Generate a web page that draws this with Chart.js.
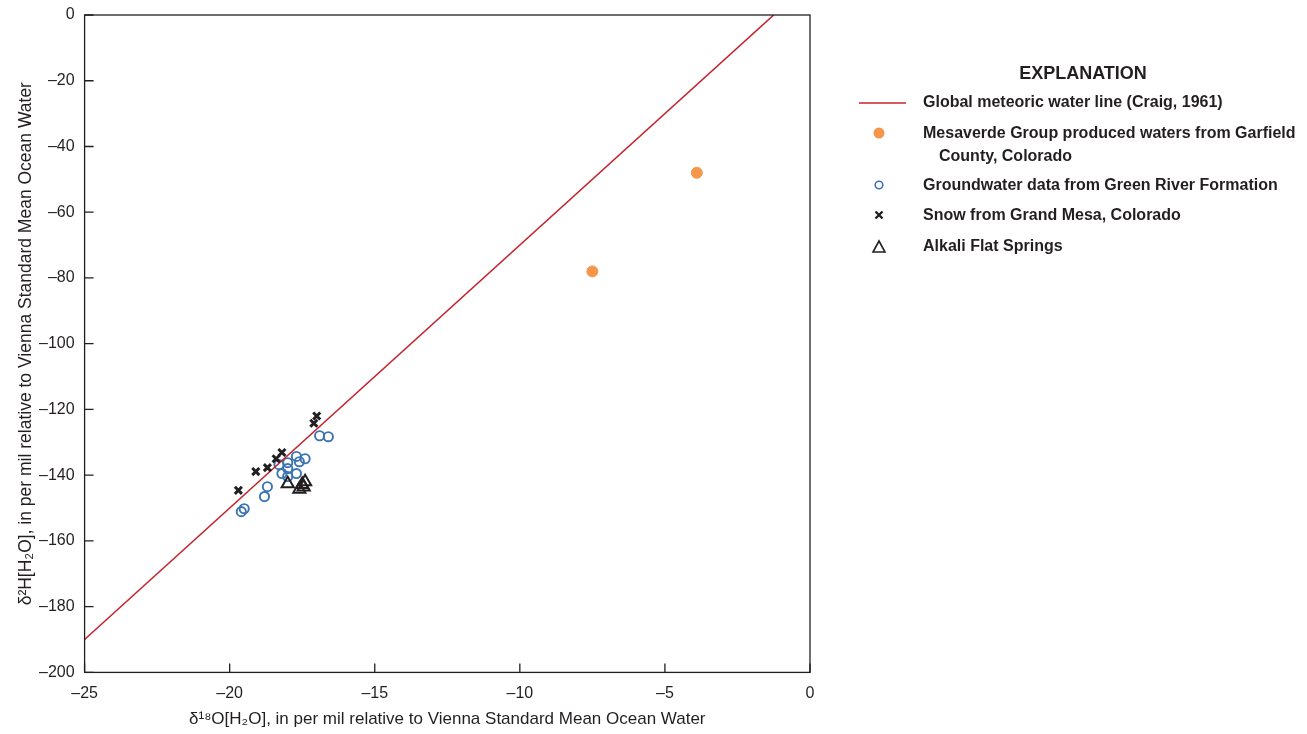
<!DOCTYPE html>
<html lang="en">
<head>
    <meta charset="UTF-8">
    <title>Stable isotopes of water</title>
    <script src="https://cdn.jsdelivr.net/npm/chart.js"></script>
    <style>
        body {
            margin: 0;
            background: #fff;
        }
        .chart-box {
            position: relative;
            width: 1307px;
            height: 734px;
        }
    </style>
</head>
<body>
    <div class="chart-box">
        <canvas id="isoChart"></canvas>
    </div>

    <script>
        // Global meteoric water line (Craig, 1961): dD = 8 * d18O + 10
        const gmwlX = [-25, -1.25];
        const gmwlY = [-190, 0];

        // Mesaverde Group produced waters, Garfield County
        const mesaverdeX = [-3.9, -7.5];
        const mesaverdeY = [-48.0, -78.0];

        // Groundwater, Green River Formation
        const groundX = [-16.9, -16.6, -17.7, -17.4, -17.6, -18.0, -18.3, -18.0, -17.7, -18.2, -18.0, -18.7, -18.8, -19.5, -19.6];
        const groundY = [-128.0, -128.3, -134.3, -135.0, -135.9, -136.2, -136.8, -138.0, -139.5, -139.5, -140.4, -143.5, -146.5, -150.2, -151.1];

        // Snow, Grand Mesa
        const snowX = [-17.0, -17.1, -18.2, -18.4, -18.7, -19.1, -19.7];
        const snowY = [-122.0, -124.2, -133.1, -135.0, -137.7, -138.9, -144.6];

        // Alkali Flat Springs
        const alkaliX = [-18.0, -17.4, -17.5, -17.6, -17.45];
        const alkaliY = [-142.6, -142.0, -142.8, -144.3, -143.6];

        const xTicks = [-25, -20, -15, -10, -5, 0];
        const yTicks = [0, -20, -40, -60, -80, -100, -120, -140, -160, -180, -200];

        const legendItems = [
            { kind: 'line', lines: ['Global meteoric water line (Craig, 1961)'] },
            { kind: 'dot', lines: ['Mesaverde Group produced waters from Garfield', 'County, Colorado'] },
            { kind: 'ring', lines: ['Groundwater data from Green River Formation'] },
            { kind: 'cross', lines: ['Snow from Grand Mesa, Colorado'] },
            { kind: 'tri', lines: ['Alkali Flat Springs'] }
        ];

        const FONT = "'Liberation Sans Narrow', 'Liberation Sans', Arial, sans-serif";
        const RED = '#c4242e';
        const ORANGE = '#f6964a';
        const BLUE = '#3b73b4';
        const INK = '#231f20';

        const pts = (xs, ys) => xs.map((x, i) => ({ x: x, y: ys[i] }));
        const dash = v => (v < 0 ? '\u2013' + Math.abs(v) : String(v));

        // frame, inward ticks and the explanation block
        const decor = {
            id: 'decor',
            afterDraw(chart) {
                const ctx = chart.ctx;
                const a = chart.chartArea;
                const sx = chart.scales.x;
                const sy = chart.scales.y;
                ctx.save();
                ctx.strokeStyle = INK;
                ctx.lineWidth = 1.3;
                ctx.strokeRect(a.left, a.top, a.right - a.left, a.bottom - a.top);
                ctx.beginPath();
                xTicks.forEach(v => {
                    const px = sx.getPixelForValue(v);
                    ctx.moveTo(px, a.bottom);
                    ctx.lineTo(px, a.bottom - 9);
                });
                yTicks.forEach(v => {
                    const py = sy.getPixelForValue(v);
                    ctx.moveTo(a.left, py);
                    ctx.lineTo(a.left + 9, py);
                });
                ctx.stroke();

                // explanation
                ctx.fillStyle = INK;
                ctx.textBaseline = 'middle';
                ctx.font = "bold 18px " + FONT;
                ctx.textAlign = 'center';
                ctx.fillText('EXPLANATION', 1083, 74);

                ctx.textAlign = 'left';
                ctx.font = "bold 16px " + FONT;
                const rows = [103, 134, 186, 216, 247];
                const mx = 879;
                legendItems.forEach((item, i) => {
                    const y = rows[i];
                    item.lines.forEach((t, j) => {
                        ctx.fillStyle = INK;
                        ctx.fillText(t, j === 0 ? 923 : 939, y + j * 23);
                    });
                    ctx.beginPath();
                    if (item.kind === 'line') {
                        ctx.strokeStyle = RED;
                        ctx.lineWidth = 1.6;
                        ctx.moveTo(859, y);
                        ctx.lineTo(906, y);
                        ctx.stroke();
                    } else if (item.kind === 'dot') {
                        ctx.fillStyle = ORANGE;
                        ctx.arc(mx, y - 1, 5.5, 0, Math.PI * 2);
                        ctx.fill();
                    } else if (item.kind === 'ring') {
                        ctx.strokeStyle = BLUE;
                        ctx.lineWidth = 1.6;
                        ctx.arc(mx, y - 1, 3.8, 0, Math.PI * 2);
                        ctx.stroke();
                    } else if (item.kind === 'cross') {
                        ctx.strokeStyle = INK;
                        ctx.lineWidth = 2.4;
                        ctx.moveTo(mx - 3.5, y - 4.5);
                        ctx.lineTo(mx + 3.5, y + 2.5);
                        ctx.moveTo(mx + 3.5, y - 4.5);
                        ctx.lineTo(mx - 3.5, y + 2.5);
                        ctx.stroke();
                    } else if (item.kind === 'tri') {
                        ctx.strokeStyle = INK;
                        ctx.lineWidth = 1.6;
                        ctx.moveTo(mx, y - 6);
                        ctx.lineTo(mx + 6, y + 5);
                        ctx.lineTo(mx - 6, y + 5);
                        ctx.closePath();
                        ctx.stroke();
                    }
                });
                ctx.restore();
            }
        };

        const ctx = document.getElementById('isoChart').getContext('2d');
        const isoChart = new Chart(ctx, {
            type: 'scatter',
            data: {
                datasets: [
                    {
                        label: 'Global meteoric water line (Craig, 1961)',
                        type: 'line',
                        data: pts(gmwlX, gmwlY),
                        borderColor: RED,
                        borderWidth: 1.6,
                        pointRadius: 0,
                        fill: false,
                        order: 1
                    },
                    {
                        label: 'Mesaverde Group produced waters from Garfield County, Colorado',
                        data: pts(mesaverdeX, mesaverdeY),
                        backgroundColor: ORANGE,
                        borderColor: ORANGE,
                        pointRadius: 5.5,
                        order: 2
                    },
                    {
                        label: 'Groundwater data from Green River Formation',
                        data: pts(groundX, groundY),
                        backgroundColor: 'rgba(0,0,0,0)',
                        borderColor: BLUE,
                        borderWidth: 1.9,
                        pointRadius: 4.6,
                        order: 3
                    },
                    {
                        label: 'Snow from Grand Mesa, Colorado',
                        data: pts(snowX, snowY),
                        pointStyle: 'crossRot',
                        borderColor: INK,
                        borderWidth: 3,
                        pointRadius: 5,
                        order: 0
                    },
                    {
                        label: 'Alkali Flat Springs',
                        data: pts(alkaliX, alkaliY),
                        pointStyle: 'triangle',
                        backgroundColor: 'rgba(0,0,0,0)',
                        borderColor: INK,
                        borderWidth: 2,
                        pointRadius: 7,
                        order: 0
                    }
                ]
            },
            options: {
                responsive: true,
                maintainAspectRatio: false,
                animation: false,
                layout: {
                    padding: { top: 15, right: 497, bottom: 4, left: 16 }
                },
                plugins: {
                    legend: { display: false },
                    tooltip: { enabled: false }
                },
                scales: {
                    x: {
                        type: 'linear',
                        min: -25,
                        max: 0,
                        afterBuildTicks: s => { s.ticks = xTicks.map(v => ({ value: v })); },
                        grid: { display: false },
                        border: { display: false },
                        ticks: {
                            color: INK,
                            padding: 4,
                            maxRotation: 0,
                            font: { family: FONT, size: 16 },
                            callback: v => dash(v)
                        },
                        title: {
                            display: true,
                            text: '\u03b4\u00b9\u2078O[H\u2082O], in per mil relative to Vienna Standard Mean Ocean Water',
                            color: INK,
                            font: { family: FONT, size: 17 },
                            padding: { top: 2, bottom: 0 }
                        }
                    },
                    y: {
                        type: 'linear',
                        min: -200,
                        max: 0,
                        afterBuildTicks: s => { s.ticks = yTicks.map(v => ({ value: v })); },
                        grid: { display: false },
                        border: { display: false },
                        ticks: {
                            color: INK,
                            padding: 2,
                            font: { family: FONT, size: 16 },
                            callback: v => dash(v)
                        },
                        title: {
                            display: true,
                            text: '\u03b4\u00b2H[H\u2082O], in per mil relative to Vienna Standard Mean Ocean Water',
                            color: INK,
                            font: { family: FONT, size: 17.5 },
                            padding: { top: 0, bottom: 0 }
                        }
                    }
                }
            },
            plugins: [decor]
        });
    </script>
</body>
</html>
